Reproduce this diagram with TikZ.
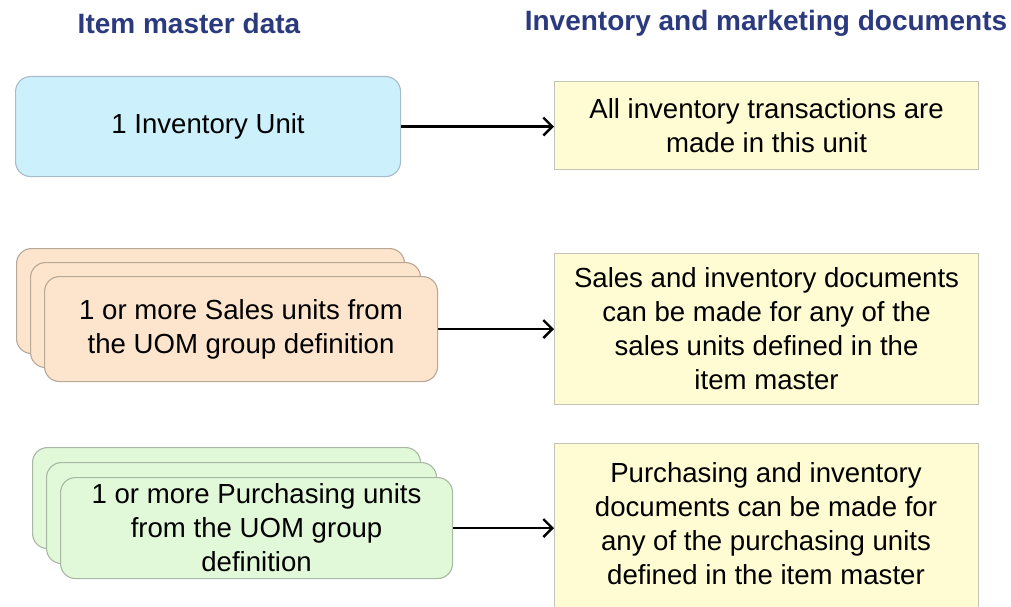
\documentclass[tikz,border=0pt]{standalone}
\usepackage{fontspec}
\setmainfont{Liberation Sans}
\usetikzlibrary{arrows.meta}
\definecolor{hdr}{HTML}{2B3A7E}
\definecolor{bluef}{HTML}{CCF1FD}
\definecolor{blued}{HTML}{A8BCC8}
\definecolor{peachf}{HTML}{FDE4CC}
\definecolor{peachd}{HTML}{B8A898}
\definecolor{greenf}{HTML}{E2F9D9}
\definecolor{greend}{HTML}{A8B8A4}
\definecolor{yelf}{HTML}{FFFCD3}
\definecolor{yeld}{HTML}{C4C4B4}
\tikzset{
  txt/.style={font=\fontsize{27.6}{34}\selectfont, align=center, inner sep=0pt},
  hdrtxt/.style={font=\fontsize{28}{34}\selectfont\bfseries, text=hdr, inner sep=0pt},
  rbox/.style={draw, line width=1.1pt, rounded corners=15pt, anchor=north west, inner sep=0pt},
  ybox/.style={draw=yeld, fill=yelf, line width=1.1pt, anchor=north west, minimum width=424pt, inner sep=0pt},
  conn/.style={line width=2.8pt, -{Straight Barb[length=9pt,width=18pt,line width=2.4pt]}},
}
\begin{document}
\begin{tikzpicture}[x=1pt,y=-1pt]
\useasboundingbox (0,0) rectangle (1011,607);
\clip (0,0) rectangle (1011,607);
\fill[white] (0,0) rectangle (1011,607);
% headers
\node[hdrtxt] (h1) at (189,23) {Item master data};
\node[hdrtxt] (h2) at (766,23) {Inventory and marketing documents};
% inventory unit
\node[rbox, draw=blued, fill=bluef, minimum width=385pt, minimum height=100pt] (inv) at (15,76) {};
\node[txt] (invt) at (inv.center) {1 Inventory Unit};
\node[ybox, minimum height=88pt] (invr) at (554,81) {};
\node[txt] (invrt) at (invr.center) {All inventory transactions are\\made in this unit};
\draw[conn] (inv.east) -- (invr.west |- inv.east);
% sales stack
\node[rbox, draw=peachd, fill=peachf, minimum width=388pt, minimum height=105pt] (s3) at (16,248) {};
\node[rbox, draw=peachd, fill=peachf, minimum width=390pt, minimum height=105pt] (s2) at (30,262) {};
\node[rbox, draw=peachd, fill=peachf, minimum width=393pt, minimum height=105pt] (s1) at (44,276) {};
\node[txt] (s1t) at (s1.center) {1 or more Sales units from\\the UOM group definition};
\node[ybox, minimum height=151pt] (sr) at (554,253) {};
\node[txt] (srt) at (sr.center) {Sales and inventory documents\\can be made for any of the\\sales units defined in the\\item master};
\draw[conn] (s1.east) -- (sr.west |- s1.east);
% purchasing stack
\node[rbox, draw=greend, fill=greenf, minimum width=388pt, minimum height=101pt] (p3) at (32,447) {};
\node[rbox, draw=greend, fill=greenf, minimum width=390pt, minimum height=101pt] (p2) at (46,462) {};
\node[rbox, draw=greend, fill=greenf, minimum width=392pt, minimum height=101pt] (p1) at (60,477) {};
\node[txt] (p1t) at (p1.center) {1 or more Purchasing units\\from the UOM group\\definition};
\node[ybox, minimum height=180pt] (pr) at (554,443) {};
\node[txt, anchor=north] (prt) at (766,462) {Purchasing and inventory\\documents can be made for\\any of the purchasing units\\defined in the item master};
\draw[conn] (p1.east) -- (pr.west |- p1.east);
\end{tikzpicture}
\end{document}
